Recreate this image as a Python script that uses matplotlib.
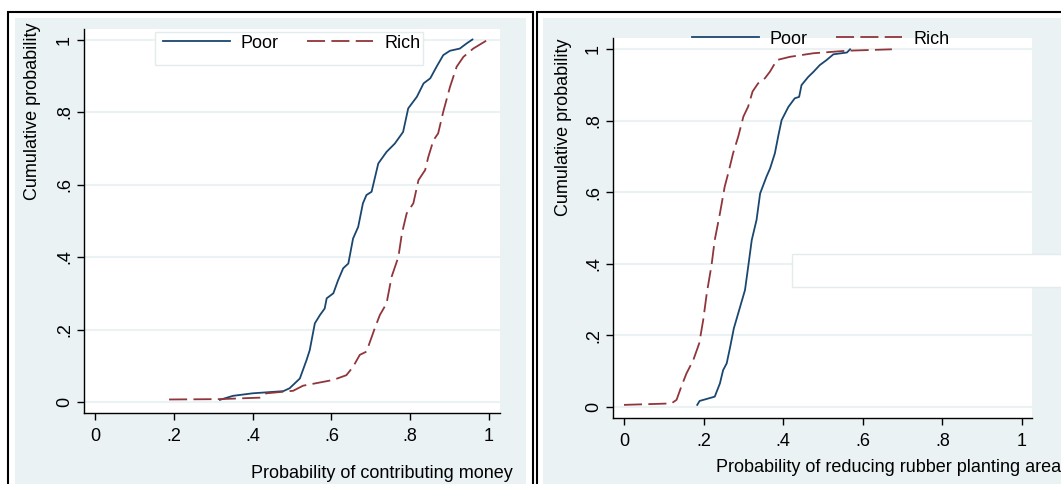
import matplotlib
matplotlib.use("Agg")
import matplotlib.pyplot as plt
from matplotlib.patches import Rectangle

# ECDF points (x = probability, y = cumulative share)
money_poor_x = [0.317, 0.35, 0.40, 0.478, 0.494, 0.52, 0.537, 0.545, 0.558, 0.571, 0.583, 0.588,
                0.605, 0.617, 0.63, 0.643, 0.655, 0.668, 0.68, 0.689, 0.702, 0.719, 0.74, 0.761,
                0.782, 0.795, 0.817, 0.834, 0.851, 0.867, 0.884, 0.901, 0.926, 0.943, 0.958]
money_poor_y = [0.006, 0.017, 0.024, 0.03, 0.038, 0.065, 0.116, 0.143, 0.217, 0.24, 0.258, 0.286,
                0.30, 0.336, 0.369, 0.382, 0.451, 0.483, 0.548, 0.571, 0.58, 0.658, 0.69, 0.713,
                0.745, 0.81, 0.842, 0.879, 0.893, 0.925, 0.957, 0.969, 0.975, 0.989, 1.0]
money_rich_x = [0.188, 0.317, 0.418, 0.435, 0.503, 0.528, 0.605, 0.638, 0.655, 0.672, 0.689, 0.71,
                0.723, 0.74, 0.753, 0.77, 0.779, 0.791, 0.808, 0.821, 0.838, 0.846, 0.859, 0.871,
                0.884, 0.901, 0.918, 0.935, 0.96, 0.998]
money_rich_y = [0.007, 0.008, 0.012, 0.024, 0.031, 0.045, 0.061, 0.074, 0.097, 0.13, 0.139, 0.203,
                0.24, 0.272, 0.346, 0.40, 0.465, 0.52, 0.548, 0.612, 0.64, 0.676, 0.722, 0.741,
                0.801, 0.869, 0.925, 0.952, 0.975, 1.0]

rubber_poor_x = [0.184, 0.19, 0.228, 0.241, 0.249, 0.258, 0.266, 0.276, 0.287, 0.304, 0.312, 0.321,
                 0.333, 0.342, 0.358, 0.367, 0.379, 0.388, 0.396, 0.413, 0.429, 0.44, 0.446, 0.463,
                 0.476, 0.492, 0.509, 0.526, 0.56, 0.568]
rubber_poor_y = [0.006, 0.017, 0.029, 0.066, 0.103, 0.122, 0.164, 0.22, 0.262, 0.327, 0.392, 0.467,
                 0.523, 0.597, 0.644, 0.667, 0.709, 0.76, 0.802, 0.839, 0.863, 0.867, 0.9, 0.923,
                 0.937, 0.956, 0.97, 0.986, 0.991, 1.0]
rubber_rich_x = [0.0, 0.119, 0.132, 0.144, 0.157, 0.174, 0.189, 0.199, 0.208, 0.22, 0.228, 0.241,
                 0.253, 0.262, 0.274, 0.287, 0.30, 0.312, 0.323, 0.337, 0.354, 0.367, 0.384, 0.417,
                 0.476, 0.56, 0.673]
rubber_rich_y = [0.006, 0.01, 0.02, 0.057, 0.094, 0.131, 0.178, 0.243, 0.318, 0.397, 0.467, 0.541,
                 0.616, 0.654, 0.709, 0.756, 0.812, 0.84, 0.882, 0.905, 0.919, 0.938, 0.97, 0.979,
                 0.989, 0.996, 1.0]

ticks = [0, 0.2, 0.4, 0.6, 0.8, 1]
tick_labels = ["0", ".2", ".4", ".6", ".8", "1"]
series_names = ["Poor", "Rich"]

W, H = 1061, 484
NAVY = "#1a476f"
MAROON = "#90353b"
BG = "#eaf2f3"
DASH = (0, (10, 3.5))
LW = 1.3
FS = 13

plt.rcParams["font.family"] = ["Liberation Sans", "DejaVu Sans"]
plt.rcParams["font.size"] = FS

fig = plt.figure(figsize=(W / 100, H / 100), dpi=100)


def box(x0, y0, x1, y1):
    """pixel box (top-left origin) -> figure fraction rect"""
    return (x0 / W, 1 - y1 / H), (x1 - x0) / W, (y1 - y0) / H


def frame(x0, y0, x1, y1, **kw):
    xy, w, h = box(x0, y0, x1, y1)
    fig.patches.append(Rectangle(xy, w, h, transform=fig.transFigure, zorder=-5, **kw))


# panel frames and backgrounds
frame(8, 12, 533, 500, facecolor="white", edgecolor="black", lw=1.5)
frame(15, 18, 526, 500, facecolor=BG, edgecolor="none")
frame(537, 12, 1100, 500, facecolor="white", edgecolor="black", lw=1.5)
frame(543, 18, 1100, 500, facecolor=BG, edgecolor="none")


def make_axes(px_box, xlim, ylim):
    xy, w, h = box(*px_box)
    ax = fig.add_axes([xy[0], xy[1], w, h])
    ax.set_facecolor("white")
    ax.set_xlim(*xlim)
    ax.set_ylim(*ylim)
    for s in ["top", "right"]:
        ax.spines[s].set_visible(False)
    for s in ["left", "bottom"]:
        ax.spines[s].set_linewidth(1.0)
    ax.set_xticks(ticks, tick_labels)
    ax.set_yticks(ticks, tick_labels)
    ax.tick_params(length=5, width=1.0, labelsize=FS)
    ax.tick_params(axis="x", pad=6)
    ax.tick_params(axis="y", pad=3)
    for lab in ax.get_yticklabels():
        lab.set_rotation(90)
        lab.set_va("center")
    ax.grid(axis="y", color=BG, lw=1.5)
    ax.set_axisbelow(True)
    return ax


ax1 = make_axes((84, 29, 500, 413), (-0.028, 1.028), (-0.0303, 1.029))
ax1.plot(money_poor_x, money_poor_y, color=NAVY, lw=LW, label=series_names[0])
ax1.plot(money_rich_x, money_rich_y, color=MAROON, lw=LW, ls=DASH, label=series_names[1])

ax2 = make_axes((613, 38, 1032, 418), (-0.0276, 1.025), (-0.0307, 1.0316))
ax2.plot(rubber_poor_x, rubber_poor_y, color=NAVY, lw=LW, label=series_names[0])
ax2.plot(rubber_rich_x, rubber_rich_y, color=MAROON, lw=LW, ls=DASH, label=series_names[1])

# legend box on the left panel, stray empty box on the right one
xy, w, h = box(155, 32, 423, 65)
ax1.add_patch(Rectangle(xy, w, h, transform=fig.transFigure, clip_on=False,
                        facecolor="white", edgecolor="#e2ecee", lw=1, zorder=5))
xy, w, h = box(792, 254, 1100, 287)
ax2.add_patch(Rectangle(xy, w, h, transform=fig.transFigure, clip_on=False,
                        facecolor="white", edgecolor="#e2ecee", lw=1, zorder=5))

for ax, (lx, ly) in [(ax1, (163, 43)), (ax2, (692, 39))]:
    leg = ax.legend(loc="center left", bbox_to_anchor=(lx / W, 1 - ly / H),
                    bbox_transform=fig.transFigure, ncol=2, frameon=False,
                    borderpad=0, borderaxespad=0, handlelength=3.7,
                    handletextpad=0.6, columnspacing=1.55, fontsize=FS)
    leg.set_zorder(6)

fig.text(33 / W, 1 - 23 / H, "Cumulative probability", rotation=90, ha="center", va="top")
fig.text(563 / W, 1 - 38 / H, "Cumulative probability", rotation=90, ha="center", va="top")
fig.text(513 / W, 1 - 473 / H, "Probability of contributing money", ha="right", va="center")
fig.text(716 / W, 1 - 467 / H, "Probability of reducing rubber planting area", ha="left", va="center")

fig.savefig("out.png", dpi=100)
